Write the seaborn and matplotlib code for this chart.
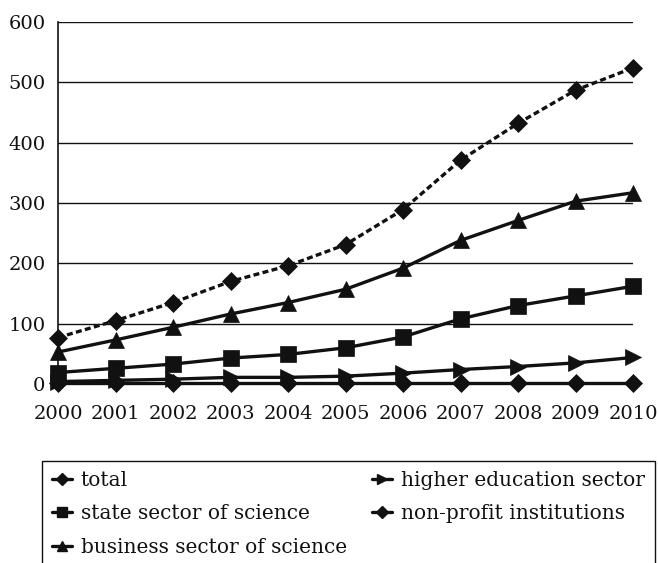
import pandas as pd
import matplotlib.pyplot as plt
import seaborn as sns
from matplotlib.lines import Line2D

# values
years = [2000, 2001, 2002, 2003, 2004, 2005, 2006, 2007, 2008, 2009, 2010]
total = [77, 105, 135, 170, 196, 231, 289, 371, 432, 487, 524]
state_sector = [19, 26, 33, 43, 49, 60, 78, 108, 130, 146, 162]
business_sector = [53, 73, 94, 116, 135, 157, 192, 238, 271, 303, 317]
higher_education = [4, 6, 8, 11, 11, 13, 18, 24, 29, 35, 44]
non_profit = [1, 1, 1, 1, 1, 1, 1, 1, 1, 1, 1]

series_names = ["total", "state sector of science", "business sector of science",
                "higher education sector", "non-profit institutions"]
series_values = [total, state_sector, business_sector, higher_education, non_profit]

rows = []
for name, vals in zip(series_names, series_values):
    for yr, v in zip(years, vals):
        rows.append((yr, v, name))
df = pd.DataFrame(rows, columns=["Year", "Value", "Series"])

sns.set_style("white")
plt.rcParams['font.family'] = ['DejaVu Serif']

fig = plt.figure(figsize=(6.58, 5.63), dpi=100)
ax = fig.add_axes([58/658, 1-384/563, (633-58)/658, (384-22)/563])

markers = {"total": "D", "state sector of science": "s", "business sector of science": "^",
           "higher education sector": ">", "non-profit institutions": "D"}
dashes = {"total": (1.8, 1.0), "state sector of science": "", "business sector of science": "",
          "higher education sector": "", "non-profit institutions": ""}
sizes = {"total": 9, "state sector of science": 11, "business sector of science": 11,
         "higher education sector": 11, "non-profit institutions": 9}

sns.lineplot(data=df, x="Year", y="Value", hue="Series", style="Series",
             hue_order=series_names, style_order=series_names,
             palette=["#111111"] * 5, markers=markers, dashes=dashes,
             linewidth=2.4, markeredgecolor="#111111", markeredgewidth=0.5,
             ax=ax, legend=False)

for line, name in zip(ax.get_lines(), series_names):
    line.set_markersize(sizes[name])
    line.set_clip_on(False)
    line.set_zorder(3)

ax.set_xlim(2000, 2010)
ax.set_ylim(0, 600)
ax.set_yticks(range(0, 601, 100))
ax.set_xticks(years)
ax.set_xlabel("")
ax.set_ylabel("")
ax.grid(axis="y", color="#111111", linewidth=1)
ax.set_axisbelow(True)
for s in ["top", "right", "bottom"]:
    ax.spines[s].set_visible(False)
ax.spines["left"].set_color("#111111")
ax.spines["left"].set_linewidth(1.2)
ax.tick_params(axis="y", length=8, width=1, color="#111111", labelsize=14, pad=1,
               labelcolor="#111111")
ax.tick_params(axis="x", length=0, labelsize=14, pad=15, labelcolor="#111111")

# legend handles: short solid line with marker
handles = [Line2D([0], [0], color="#111111", lw=2.4, marker=markers[n],
                  markersize=sizes[n] * 0.7, markeredgecolor="#111111")
           for n in series_names]
fig.legend(handles, series_names, loc="upper left", ncol=2, mode="expand",
           bbox_to_anchor=(42/658, 0, 613/658, 1-461/563), fontsize=14.5,
           frameon=True, fancybox=False, edgecolor="#111111", framealpha=1,
           handlelength=1.0, handletextpad=0.45, labelspacing=0.72, borderpad=0.48,
           borderaxespad=0, labelcolor="#111111")
fig.legends[0].get_frame().set_linewidth(1)

fig.savefig("out.png", dpi=100)
